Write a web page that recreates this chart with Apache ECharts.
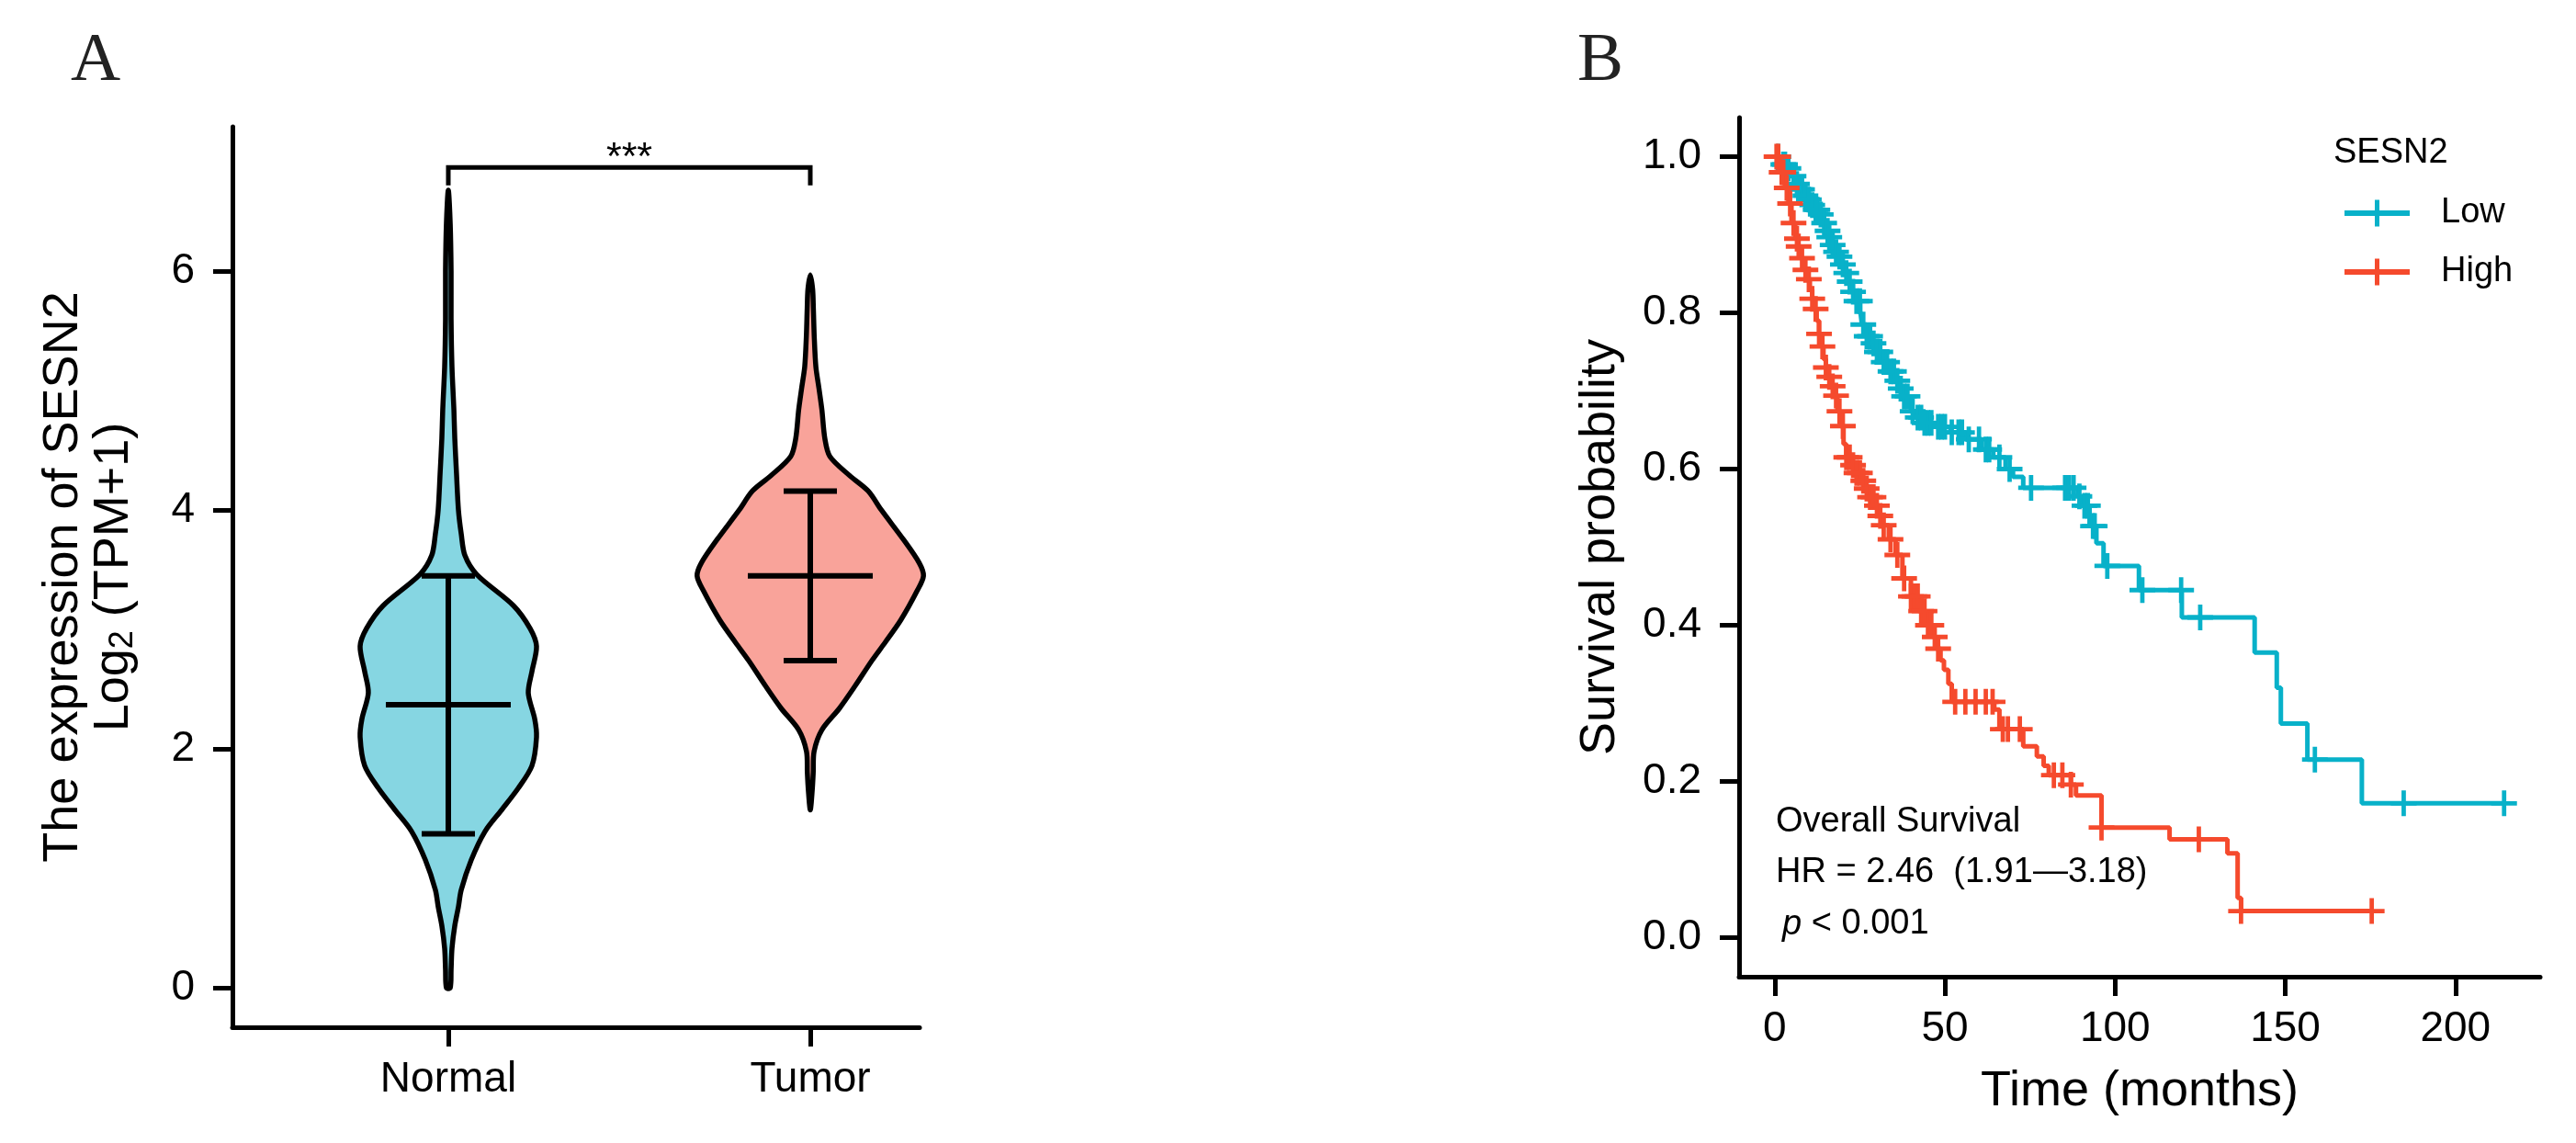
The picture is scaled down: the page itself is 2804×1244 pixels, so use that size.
<!DOCTYPE html>
<html><head><meta charset="utf-8">
<script src="https://cdn.jsdelivr.net/npm/echarts@6/dist/echarts.min.js"></script>
<style>html,body{margin:0;padding:0;background:#fff;}#c{width:2804px;height:1244px;}</style>
</head><body><div id="c"></div>
<script>
// ---------- Panel A: violin data ----------
const groups = ['Normal', 'Tumor'];
const groupColors = ['#86D6E2', '#F9A39A'];
const normalLevels  = [0, 0.15, 0.33, 0.52, 0.68, 0.82, 1.07, 1.31, 1.49, 1.67, 1.86, 2.1, 2.25, 2.47, 2.65, 2.86, 3.01, 3.2, 3.46, 3.62, 3.8, 4.0, 4.3, 4.6, 4.84, 5.2, 5.6, 6.0, 6.4, 6.68];
const normalDensity = [0.013, 0.019, 0.025, 0.044, 0.069, 0.088, 0.156, 0.25, 0.363, 0.475, 0.569, 0.6, 0.588, 0.544, 0.569, 0.6, 0.556, 0.444, 0.194, 0.113, 0.088, 0.069, 0.056, 0.044, 0.038, 0.025, 0.019, 0.019, 0.013, 0];
const tumorLevels   = [1.49, 1.65, 1.8, 1.98, 2.16, 2.34, 2.53, 2.74, 2.89, 3.08, 3.32, 3.45, 3.56, 3.75, 4.0, 4.16, 4.29, 4.45, 4.6, 4.84, 5.02, 5.2, 5.45, 5.69, 5.85, 5.97];
const tumorDensity  = [0, 0.013, 0.02, 0.026, 0.079, 0.198, 0.306, 0.419, 0.508, 0.616, 0.725, 0.77, 0.74, 0.636, 0.484, 0.394, 0.267, 0.133, 0.099, 0.079, 0.059, 0.038, 0.027, 0.021, 0.016, 0];
const groupMean = [2.37, 3.45];
const groupSD   = [1.08, 0.71];
const sigPair = [1, 2];
const sigLevels = [6.87, 6.72];
const sigLabel = '***';
const yTicksA = [0, 2, 4, 6];

// ---------- Panel B: Kaplan-Meier data ----------
const lowTimes = [0, 2, 3.5, 4.9, 6, 7, 8.4, 9.5, 10.5, 11.8, 13, 14, 15, 15.7, 16.5, 17.5, 18.4, 19.3, 20.2, 21.5, 22.9, 24, 25.1, 25.6, 27, 28.3, 30, 31.8, 33.5, 35.4, 36.7, 38, 40, 41.7, 43.5, 47.2, 51.6, 56.1, 60.7, 64.2, 67.8, 70, 73, 89, 90.5, 92.5, 94.5, 96.6, 107, 119.6, 141, 147.5, 148.7, 156.5, 172.5, 214.3];
const lowSurv  = [1, 0.99, 0.985, 0.975, 0.965, 0.958, 0.95, 0.945, 0.938, 0.932, 0.926, 0.915, 0.905, 0.897, 0.887, 0.878, 0.872, 0.862, 0.851, 0.84, 0.827, 0.815, 0.803, 0.785, 0.77, 0.761, 0.75, 0.737, 0.725, 0.713, 0.703, 0.693, 0.674, 0.666, 0.659, 0.654, 0.647, 0.638, 0.625, 0.615, 0.6, 0.59, 0.576, 0.565, 0.553, 0.527, 0.505, 0.476, 0.445, 0.41, 0.365, 0.32, 0.274, 0.228, 0.172, 0.172];
const highTimes = [0, 1.3, 3, 4, 4.9, 6, 6.7, 7.6, 8.4, 9.4, 10.3, 11, 11.6, 12.3, 13, 13.7, 14.3, 15, 15.7, 16.6, 17.5, 18.4, 19.2, 20.2, 21, 22.4, 23.8, 25.2, 26.5, 27.8, 29.1, 30.5, 31.8, 33.5, 35.5, 37.5, 40, 42.4, 44.5, 46.5, 47.5, 48.7, 49.7, 51, 52, 64.5, 66, 73, 77, 79, 80.5, 87, 88.5, 96, 116, 133, 136, 137, 175.4];
const highSurv  = [1, 0.98, 0.96, 0.94, 0.915, 0.895, 0.885, 0.87, 0.855, 0.843, 0.83, 0.818, 0.805, 0.79, 0.773, 0.757, 0.741, 0.73, 0.718, 0.706, 0.694, 0.674, 0.655, 0.632, 0.615, 0.605, 0.595, 0.585, 0.575, 0.564, 0.553, 0.54, 0.528, 0.51, 0.49, 0.46, 0.437, 0.418, 0.4, 0.385, 0.37, 0.355, 0.343, 0.325, 0.302, 0.292, 0.267, 0.245, 0.232, 0.22, 0.208, 0.196, 0.182, 0.141, 0.126, 0.108, 0.051, 0.034, 0.034];
const lowCensor  = [1, 2.5, 3, 4, 5.5, 6.5, 7.5, 8, 9, 10, 11, 12, 12.5, 13.5, 14.5, 15.5, 16, 17, 18, 19, 20, 21, 22, 23, 24, 25, 26, 27, 28, 29, 30, 31, 32, 33, 34, 35, 36, 37, 38, 39, 40.5, 42, 43, 44, 45, 46, 48, 49, 50, 52, 54, 55, 57, 60, 62, 63, 66, 69, 75.3, 85.3, 86.5, 87.8, 89.5, 91, 92, 93.5, 94, 97.7, 108, 119.4, 125, 158.7, 184.8, 214.3];
const highCensor = [0.5, 1, 2, 2.5, 3.5, 4.5, 5.5, 6.5, 7, 8, 9, 10, 11, 12, 13, 14, 15, 16, 17, 18, 19, 20, 21, 22, 23, 24, 25, 26, 27, 28, 29, 30, 31, 32, 34, 36, 38, 40, 41, 42, 43, 44, 45, 46, 47, 48, 53, 56, 59, 62, 64, 67, 68.5, 72, 82, 84.5, 87, 96, 124.6, 137, 175.4];
const xTicksB = [0, 50, 100, 150, 200];
const yTicksB = [0, 0.2, 0.4, 0.6, 0.8, 1.0];
const strata = ['Low', 'High'];
const strataColors = ['#08B1C9', '#F54A2D'];
const legendTitle = 'SESN2';
const annotLines = ['Overall Survival', 'HR = 2.46  (1.91\u20143.18)', '{i|p} < 0.001'];

// ---------- helpers ----------
const FONT = '"Liberation Sans", Arial, sans-serif';
const SERIF = '"Liberation Serif", "Times New Roman", serif';
const DENS_TO_X = 160 / 394;
const violins = [{v: normalLevels, d: normalDensity}, {v: tumorLevels, d: tumorDensity}];
function survAt(times, surv, t) {
  let s = surv[0];
  for (let i = 0; i < times.length; i++) { if (times[i] <= t) s = surv[i]; else break; }
  return s;
}
const PLUS = 'path://M-0.17,-1H0.17V-0.17H1V0.17H0.17V1H-0.17V0.17H-1V-0.17H-0.17Z';
const LEG_ICON = 'path://M0,11.5H33V0H38V11.5H71V17.5H38V29H33V17.5H0Z';

const AX_W = 5;
function baseAxis(extra) {
  return Object.assign({
    axisLine: {show: true, onZero: false, lineStyle: {color: '#000', width: AX_W}},
    splitLine: {show: false},
    nameTextStyle: {color: '#000', fontFamily: FONT, fontSize: 54}
  }, extra);
}
const tickStyle = {show: true, length: 21, lineStyle: {color: '#000', width: AX_W}};

const chart = echarts.init(document.getElementById('c'), null, {renderer: 'canvas', width: 2804, height: 1244});
const option = {
  animation: false,
  backgroundColor: '#fff',
  textStyle: {fontFamily: FONT},
  grid: [
    {left: 253, top: 138, width: 748, height: 980},
    {left: 1893, top: 128, width: 872, height: 935}
  ],
  xAxis: [
    baseAxis({gridIndex: 0, type: 'value', min: 0.4036, max: 2.302,
      axisTick: Object.assign({customValues: [1, 2]}, tickStyle),
      axisLabel: {customValues: [1, 2], formatter: v => groups[Math.round(v) - 1], fontSize: 46, color: '#000', margin: 34, fontFamily: FONT}
    }),
    baseAxis({gridIndex: 1, type: 'value', min: -10.5, max: 224.9,
      name: 'Time (months)', nameLocation: 'middle', nameGap: 98,
      axisTick: Object.assign({customValues: xTicksB}, tickStyle),
      axisLabel: {customValues: xTicksB, fontSize: 46, color: '#000', margin: 34, fontFamily: FONT}
    })
  ],
  yAxis: [
    baseAxis({gridIndex: 0, type: 'value', min: -0.33, max: 7.21,
      name: '{a|The expression of SESN2}\n{a|Log}{s|2}{a| (TPM+1)}', nameLocation: 'middle', nameGap: 101,
      nameTextStyle: {color: '#000', fontFamily: FONT, fontSize: 54, lineHeight: 55,
        rich: {a: {fontSize: 54, lineHeight: 55, fontFamily: FONT, color: '#000'},
               s: {fontSize: 36, lineHeight: 28, verticalAlign: 'bottom', fontFamily: FONT, color: '#000'}}},
      axisTick: Object.assign({customValues: yTicksA}, tickStyle),
      axisLabel: {customValues: yTicksA, fontSize: 46, color: '#000', margin: 41, fontFamily: FONT}
    }),
    baseAxis({gridIndex: 1, type: 'value', min: -0.05, max: 1.05,
      name: 'Survival probability', nameLocation: 'middle', nameGap: 124,
      axisTick: Object.assign({customValues: yTicksB}, tickStyle),
      axisLabel: {customValues: yTicksB, formatter: v => v.toFixed(1), fontSize: 46, color: '#000', margin: 41, fontFamily: FONT}
    })
  ],
  legend: {
    data: strata.map(n => ({name: n, icon: LEG_ICON})),
    orient: 'vertical', left: 2547, top: 208, itemWidth: 71, itemHeight: 29, itemGap: 26,
    selectedMode: false, symbolKeepAspect: false,
    textStyle: {fontSize: 38, fontFamily: FONT, color: '#000', padding: [0, 0, 0, 29]}
  },
  graphic: [
    {type: 'text', left: 77, top: 30, style: {text: 'A', font: '75px ' + SERIF, fill: '#222'}},
    {type: 'text', left: 1717, top: 30, style: {text: 'B', font: '75px ' + SERIF, fill: '#222'}},
    {type: 'text', x: 2540, y: 167, style: {text: legendTitle, font: '38px ' + FONT, fill: '#000', verticalAlign: 'middle'}},
    {type: 'text', x: 1933, y: 895, style: {text: annotLines[0], font: '38px ' + FONT, fill: '#000', verticalAlign: 'middle'}},
    {type: 'text', x: 1933, y: 950, style: {text: annotLines[1], font: '38px ' + FONT, fill: '#000', verticalAlign: 'middle'}},
    {type: 'text', x: 1940, y: 1006, style: {text: annotLines[2], font: '38px ' + FONT, fill: '#000', verticalAlign: 'middle',
      rich: {i: {fontStyle: 'italic', fontSize: 38, fontFamily: FONT, fill: '#000'}}}}
  ],
  series: [
    {
      type: 'custom', name: 'violin', xAxisIndex: 0, yAxisIndex: 0, z: 2,
      data: groups.map((g, i) => [i + 1, groupMean[i]]),
      renderItem: function (params, api) {
        const i = params.dataIndex;
        const cx = api.value(0);
        const lv = violins[i].v, dn = violins[i].d;
        const pts = [];
        for (let k = 0; k < lv.length; k++) pts.push(api.coord([cx + dn[k] * DENS_TO_X, lv[k]]));
        for (let k = lv.length - 1; k >= 0; k--) {
          if ((k === lv.length - 1 || k === 0) && dn[k] === 0) continue;
          pts.push(api.coord([cx - dn[k] * DENS_TO_X, lv[k]]));
        }
        return {type: 'polygon', shape: {points: pts, smooth: 0.3},
          style: {fill: groupColors[i], stroke: '#000', lineWidth: 5.5, lineJoin: 'round'}};
      }
    },
    {
      type: 'custom', name: 'summary', xAxisIndex: 0, yAxisIndex: 0, z: 3,
      data: groups.map((g, i) => [i + 1, groupMean[i], groupSD[i]]),
      renderItem: function (params, api) {
        const x = api.value(0), m = api.value(1), sd = api.value(2);
        const top = api.coord([x, m + sd]), bot = api.coord([x, m - sd]), mid = api.coord([x, m]);
        const cap = 29, bar = 68;
        const st = {stroke: '#000', lineWidth: 6};
        return {type: 'group', children: [
          {type: 'line', shape: {x1: top[0], y1: top[1], x2: bot[0], y2: bot[1]}, style: st},
          {type: 'line', shape: {x1: top[0] - cap, y1: top[1], x2: top[0] + cap, y2: top[1]}, style: st},
          {type: 'line', shape: {x1: bot[0] - cap, y1: bot[1], x2: bot[0] + cap, y2: bot[1]}, style: st},
          {type: 'line', shape: {x1: mid[0] - bar, y1: mid[1], x2: mid[0] + bar, y2: mid[1]}, style: st}
        ]};
      }
    },
    {
      type: 'custom', name: 'significance', xAxisIndex: 0, yAxisIndex: 0, z: 3,
      data: [[sigPair[0], sigPair[1], sigLevels[0], sigLevels[1]]],
      renderItem: function (params, api) {
        const a = api.coord([api.value(0), api.value(3)]);
        const b = api.coord([api.value(0), api.value(2)]);
        const c = api.coord([api.value(1), api.value(2)]);
        const d = api.coord([api.value(1), api.value(3)]);
        return {type: 'group', children: [
          {type: 'polyline', shape: {points: [a, b, c, d]}, style: {stroke: '#000', lineWidth: 5, fill: null}},
          {type: 'text', x: (b[0] + c[0]) / 2, y: b[1] - 10, style: {text: sigLabel, font: '43px ' + FONT, fill: '#000', align: 'center', verticalAlign: 'middle'}}
        ]};
      }
    },
    {
      type: 'line', name: strata[0], xAxisIndex: 1, yAxisIndex: 1, step: 'end', symbol: 'none', z: 3,
      data: lowTimes.map((t, i) => [t, lowSurv[i]]),
      lineStyle: {color: strataColors[0], width: 5}, itemStyle: {color: strataColors[0]}
    },
    {
      type: 'line', name: strata[1], xAxisIndex: 1, yAxisIndex: 1, step: 'end', symbol: 'none', z: 4,
      data: highTimes.map((t, i) => [t, highSurv[i]]),
      lineStyle: {color: strataColors[1], width: 5}, itemStyle: {color: strataColors[1]}
    },
    {
      type: 'scatter', name: 'Low censored', xAxisIndex: 1, yAxisIndex: 1, symbol: PLUS, symbolSize: 28, z: 3,
      data: lowCensor.map(t => [t, survAt(lowTimes, lowSurv, t)]),
      itemStyle: {color: strataColors[0], opacity: 1}
    },
    {
      type: 'scatter', name: 'High censored', xAxisIndex: 1, yAxisIndex: 1, symbol: PLUS, symbolSize: 28, z: 4,
      data: highCensor.map(t => [t, survAt(highTimes, highSurv, t)]),
      itemStyle: {color: strataColors[1], opacity: 1}
    }
  ]
};
chart.setOption(option);
</script>
</body></html>
